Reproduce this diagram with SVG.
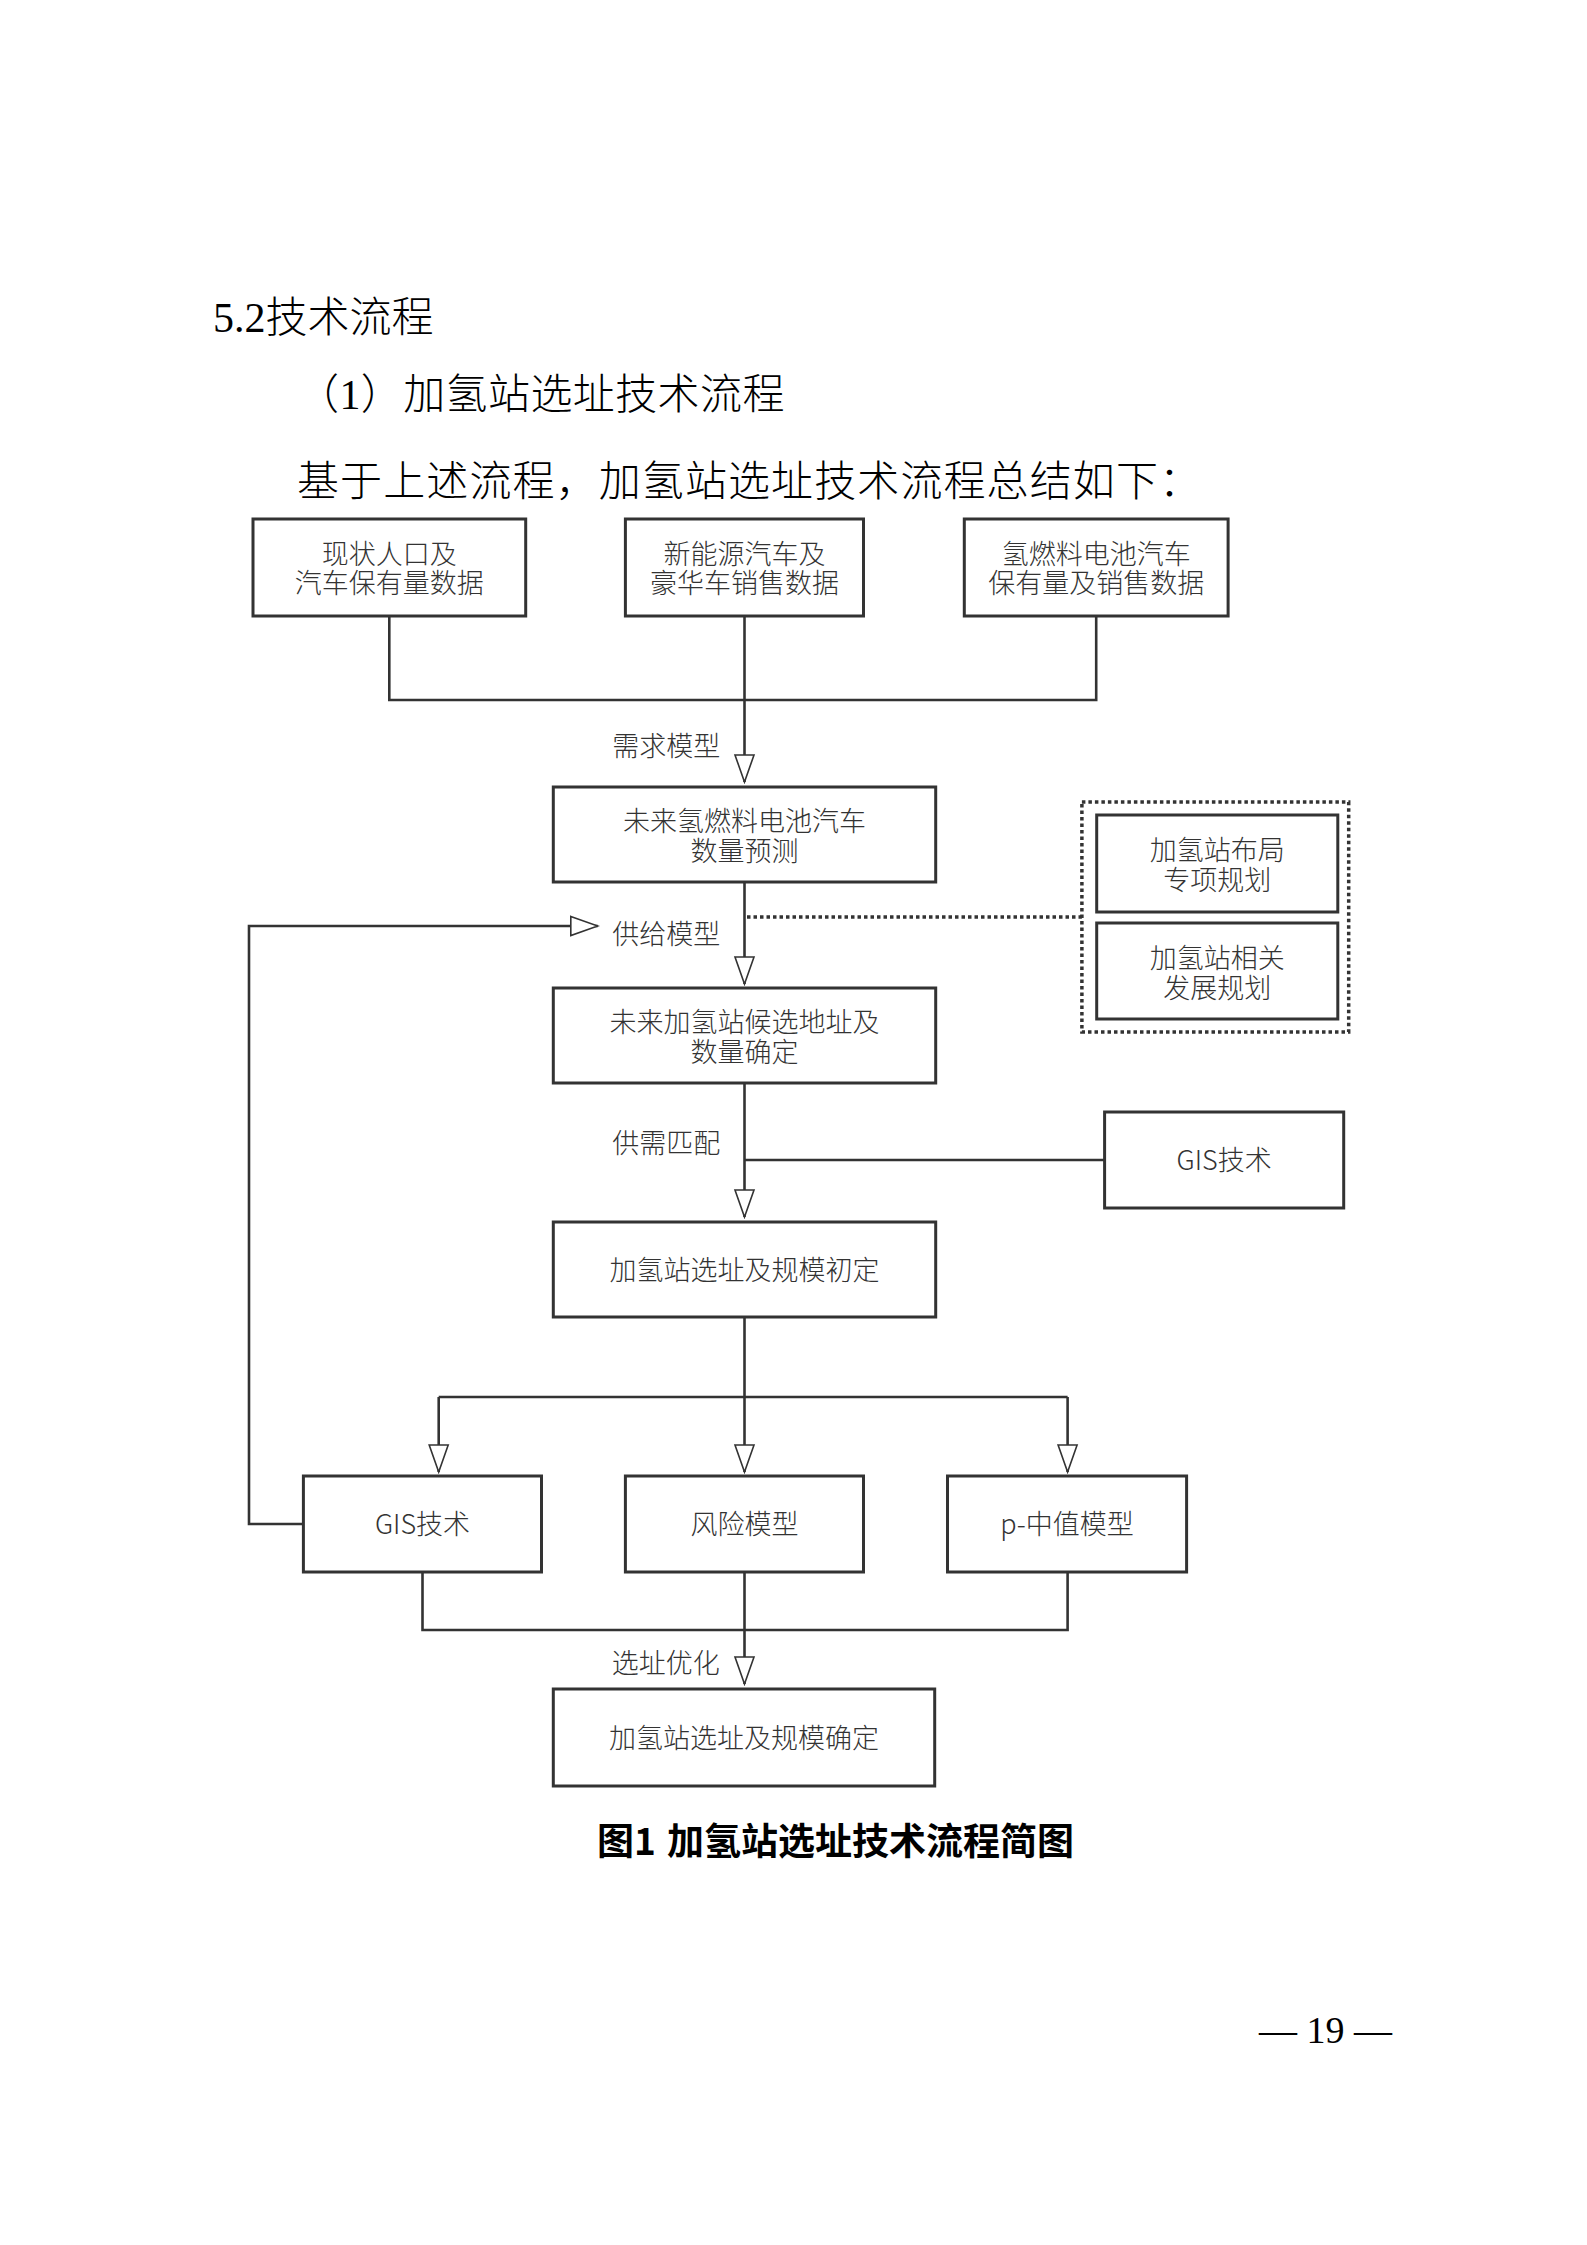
<svg xmlns="http://www.w3.org/2000/svg" width="1587" height="2245" viewBox="0 0 1587 2245">
<defs>
<marker id="arr" markerUnits="userSpaceOnUse" viewBox="-2 -2 31 23" markerWidth="31" markerHeight="23" refX="27" refY="9.5" orient="auto">
<path d="M0,0 L27,9.5 L0,19 Z" fill="#fff" stroke="#333" stroke-width="1.6"/>
</marker>
</defs>
<style>
.box{fill:#fff;stroke:#333;stroke-width:3}
.t{font-family:"Noto Sans CJK SC","Liberation Sans",sans-serif;font-size:27px;font-weight:300;fill:#333;text-anchor:middle}
.lbl{font-family:"Noto Sans CJK SC","Liberation Sans",sans-serif;font-size:27px;font-weight:300;fill:#333;text-anchor:end}
.conn{fill:none;stroke:#333;stroke-width:2.6}
.dot{fill:none;stroke:#333;stroke-width:3.5;stroke-dasharray:3.5 3}
.body{font-family:"Liberation Serif","Noto Sans CJK SC",serif;font-size:42px;font-weight:300;fill:#000}
</style>
<rect x="0" y="0" width="1587" height="2245" fill="#fff"/>

<g id="heading">
<text class="body" x="213" y="332">5.2技术流程</text>
<text class="body" x="297" y="409" letter-spacing="0.4">（1）加氢站选址技术流程</text>
<text class="body" x="297" y="496" letter-spacing="1.1">基于上述流程，加氢站选址技术流程总结如下：</text>
</g>

<g id="connectors">
<path class="conn" d="M389.3,616 V700 H1096.2 V616"/>
<path class="conn" d="M744.5,616 V782" marker-end="url(#arr)"/>
<path class="conn" d="M744.5,882 V984" marker-end="url(#arr)"/>
<path class="dot" d="M747,917 H1081.9"/>
<path class="conn" d="M303.4,1524 H249 V926 H597.8" marker-end="url(#arr)"/>
<path class="conn" d="M744.5,1083 V1217" marker-end="url(#arr)"/>
<path class="conn" d="M1104.6,1160 H744.5"/>
<path class="conn" d="M744.5,1317 V1397 M438.7,1397 H1067.6"/>
<path class="conn" d="M438.7,1397 V1472" marker-end="url(#arr)"/>
<path class="conn" d="M744.5,1397 V1472" marker-end="url(#arr)"/>
<path class="conn" d="M1067.6,1397 V1472" marker-end="url(#arr)"/>
<path class="conn" d="M422.5,1572 V1630 H1067.6 V1572"/>
<path class="conn" d="M744.5,1572 V1684" marker-end="url(#arr)"/>
<text class="lbl" x="720.3" y="756">需求模型</text>
<text class="lbl" x="720.3" y="944">供给模型</text>
<text class="lbl" x="720.3" y="1153">供需匹配</text>
<text class="lbl" x="719.7" y="1673">选址优化</text>
</g>

<g id="n1">
<rect class="box" x="253" y="519" width="272.7" height="97"/>
<text class="t" x="389.3" y="564">现状人口及</text>
<text class="t" x="389.3" y="593">汽车保有量数据</text>
</g>
<g id="n2">
<rect class="box" x="625.4" y="519" width="238.1" height="97"/>
<text class="t" x="744.5" y="564">新能源汽车及</text>
<text class="t" x="744.5" y="593">豪华车销售数据</text>
</g>
<g id="n3">
<rect class="box" x="964.3" y="519" width="263.8" height="97"/>
<text class="t" x="1096.2" y="564">氢燃料电池汽车</text>
<text class="t" x="1096.2" y="593">保有量及销售数据</text>
</g>
<g id="nA">
<rect class="box" x="553.3" y="787" width="382.4" height="95"/>
<text class="t" x="744.5" y="831">未来氢燃料电池汽车</text>
<text class="t" x="744.5" y="861">数量预测</text>
</g>
<g id="planning">
<rect class="dot" x="1081.9" y="802" width="266.8" height="230"/>
</g>
<g id="nP1">
<rect class="box" x="1096.7" y="815" width="241.1" height="97"/>
<text class="t" x="1217.3" y="860">加氢站布局</text>
<text class="t" x="1217.3" y="890">专项规划</text>
</g>
<g id="nP2">
<rect class="box" x="1096.7" y="923" width="241.1" height="96"/>
<text class="t" x="1217.3" y="968">加氢站相关</text>
<text class="t" x="1217.3" y="998">发展规划</text>
</g>
<g id="nB">
<rect class="box" x="553.3" y="988" width="382.4" height="95"/>
<text class="t" x="744.5" y="1032">未来加氢站候选地址及</text>
<text class="t" x="744.5" y="1062">数量确定</text>
</g>
<g id="nGIS1">
<rect class="box" x="1104.6" y="1112" width="239.1" height="96"/>
<text class="t" x="1224.1" y="1170">GIS技术</text>
</g>
<g id="nC">
<rect class="box" x="553.3" y="1222" width="382.4" height="95"/>
<text class="t" x="744.5" y="1280">加氢站选址及规模初定</text>
</g>
<g id="nGIS2">
<rect class="box" x="303.4" y="1476" width="238.1" height="96"/>
<text class="t" x="422.5" y="1534">GIS技术</text>
</g>
<g id="nRisk">
<rect class="box" x="625.4" y="1476" width="238.1" height="96"/>
<text class="t" x="744.5" y="1534">风险模型</text>
</g>
<g id="nPmed">
<rect class="box" x="947.5" y="1476" width="239.1" height="96"/>
<text class="t" x="1067" y="1534">p-中值模型</text>
</g>
<g id="nD">
<rect class="box" x="553.3" y="1689" width="381.4" height="97"/>
<text class="t" x="744" y="1748">加氢站选址及规模确定</text>
</g>

<g id="caption">
<text x="597" y="1855" style="font-family:'Noto Sans CJK SC','Liberation Sans',sans-serif;font-size:37px;font-weight:bold;fill:#000">图1<tspan x="667">加氢站选址技术流程简图</tspan></text>
</g>
<g id="page-number">
<text x="1259" y="2043" style="font-family:'Liberation Serif',serif;font-size:38px;fill:#000">— 19 —</text>
</g>
</svg>
